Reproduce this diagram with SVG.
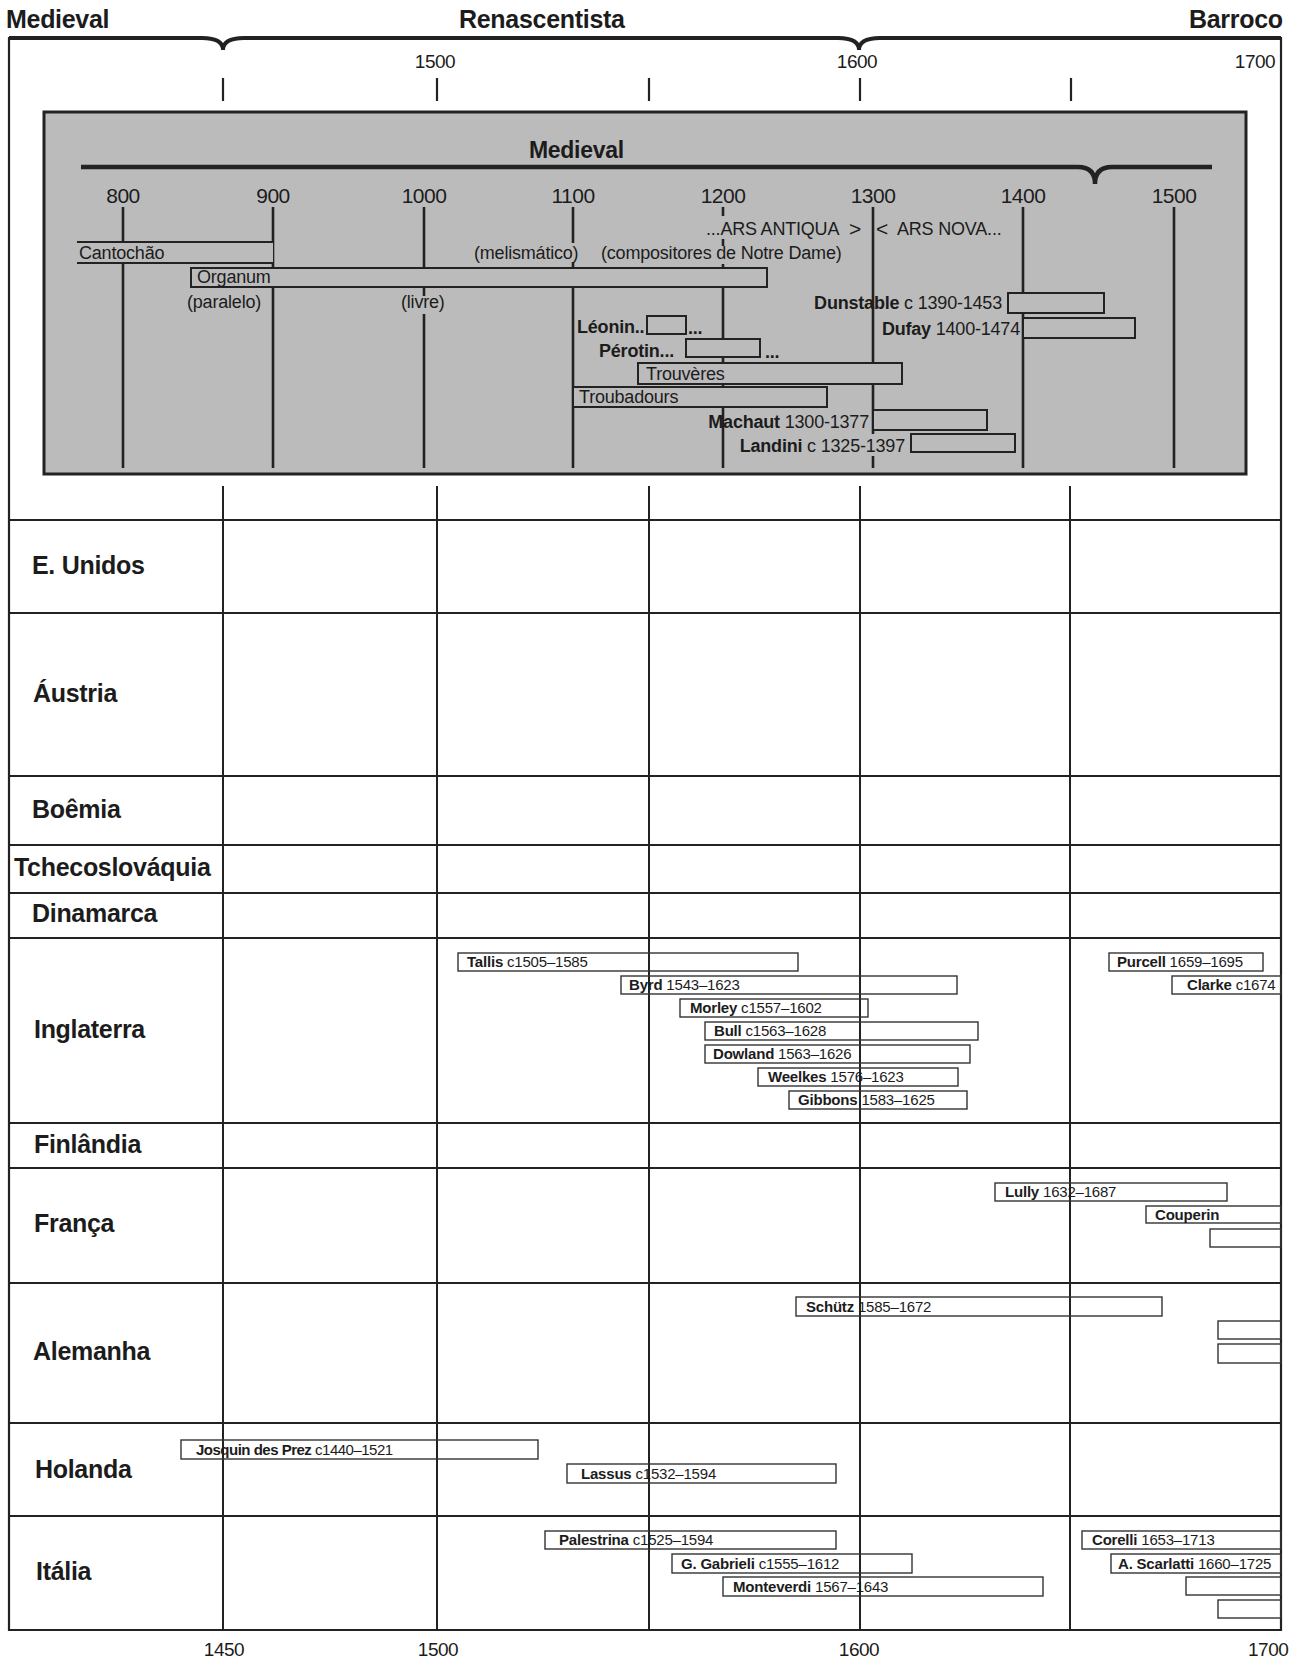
<svg xmlns="http://www.w3.org/2000/svg" width="1307" height="1660" viewBox="0 0 1307 1660">
<style>
text{font-family:"Liberation Sans",Arial,Helvetica,sans-serif;fill:#1c1c1c}
.hd{font-size:25px;font-weight:bold;letter-spacing:-0.3px}
.yr{font-size:19px;letter-spacing:-0.5px}
.gy{font-size:21px;letter-spacing:-0.5px}
.gl{font-size:18px;letter-spacing:-0.2px}
.b{font-weight:bold}
.ctry{font-size:25px;font-weight:bold;letter-spacing:-0.3px}
.tb{font-size:15px;letter-spacing:-0.2px}
.frame{stroke:#222;stroke-width:2.2;fill:none}
.topline{stroke:#222;stroke-width:4;fill:none;stroke-linejoin:miter}
.grid{stroke:#222;stroke-width:2;fill:none}
.tick{stroke:#222;stroke-width:2.2}
.panel{fill:#bbbbbb;stroke:#222;stroke-width:3}
.gline{stroke:#222;stroke-width:2.6;fill:none}
.gbar{fill:#bbbbbb;stroke:#222;stroke-width:2}
.gfill{fill:#bbbbbb}
.bar{fill:none;stroke:#333;stroke-width:1.4}
</style>
<rect width="1307" height="1660" fill="#fff"/>

<!-- Frame and period braces -->
<g id="frame">
  <path class="topline" d="M9,38 H202 Q223,38 223,50 Q223,38 244,38 H838 Q859,38 859,50 Q859,38 880,38 H1281"/>
  <line class="frame" x1="9" y1="37" x2="9" y2="1631"/>
  <line class="frame" x1="1281" y1="37" x2="1281" y2="1631"/>
  <line class="frame" x1="9" y1="1630" x2="1281" y2="1630"/>
  <text class="hd" x="6" y="28">Medieval</text>
  <text class="hd" x="459" y="28">Renascentista</text>
  <text class="hd" x="1189" y="28">Barroco</text>
  <text class="yr" x="435" y="68" text-anchor="middle">1500</text>
  <text class="yr" x="857" y="68" text-anchor="middle">1600</text>
  <text class="yr" x="1255" y="68" text-anchor="middle">1700</text>
  <line class="tick" x1="223" y1="78" x2="223" y2="101"/>
  <line class="tick" x1="437" y1="78" x2="437" y2="101"/>
  <line class="tick" x1="649" y1="78" x2="649" y2="101"/>
  <line class="tick" x1="860" y1="78" x2="860" y2="101"/>
  <line class="tick" x1="1071" y1="78" x2="1071" y2="101"/>
  <text class="yr" x="224" y="1656" text-anchor="middle">1450</text>
  <text class="yr" x="438" y="1656" text-anchor="middle">1500</text>
  <text class="yr" x="859" y="1656" text-anchor="middle">1600</text>
  <text class="yr" x="1248" y="1656">1700</text>
</g>

<!-- Medieval panel -->
<g id="medieval-panel">
  <rect class="panel" x="44" y="112" width="1202" height="362"/>
  <text class="b" x="529" y="158" style="font-size:23px;letter-spacing:-0.3px">Medieval</text>
  <path d="M81,167 H1078 Q1095,167 1095,184 Q1095,167 1112,167 H1212" stroke="#222" stroke-width="4.5" fill="none"/>
  <g class="gy" text-anchor="middle">
    <text x="123" y="203">800</text>
    <text x="273" y="203">900</text>
    <text x="424" y="203">1000</text>
    <text x="573" y="203">1100</text>
    <text x="723" y="203">1200</text>
    <text x="873" y="203">1300</text>
    <text x="1023" y="203">1400</text>
    <text x="1174" y="203">1500</text>
  </g>
  <g id="century-lines">
    <line class="gline" x1="123" y1="207" x2="123" y2="468"/>
    <line class="gline" x1="273" y1="207" x2="273" y2="468"/>
    <line class="gline" x1="424" y1="207" x2="424" y2="296"/>
    <line class="gline" x1="424" y1="314" x2="424" y2="468"/>
    <line class="gline" x1="573" y1="207" x2="573" y2="243"/>
    <line class="gline" x1="573" y1="262" x2="573" y2="468"/>
    <line class="gline" x1="723" y1="207" x2="723" y2="216"/>
    <line class="gline" x1="723" y1="239" x2="723" y2="246"/>
    <line class="gline" x1="723" y1="264" x2="723" y2="468"/>
    <line class="gline" x1="873" y1="207" x2="873" y2="434"/>
    <line class="gline" x1="873" y1="456" x2="873" y2="468"/>
    <line class="gline" x1="1023" y1="207" x2="1023" y2="468"/>
    <line class="gline" x1="1174" y1="207" x2="1174" y2="468"/>
  </g>
  <g id="cantochao">
    <rect class="gfill" x="77" y="242" width="196" height="21"/>
    <line class="gline" x1="77" y1="242" x2="273" y2="242" style="stroke-width:2"/>
    <line class="gline" x1="77" y1="263" x2="273" y2="263" style="stroke-width:2"/>
    <text class="gl" x="79" y="259">Cantochão</text>
  </g>
  <g id="organum">
    <rect class="gbar" x="191" y="268" width="576" height="19"/>
    <text class="gl" x="197" y="283">Organum</text>
    <text class="gl" x="187" y="308">(paralelo)</text>
    <text class="gl" x="401" y="308">(livre)</text>
    <text class="gl" x="474" y="259">(melismático)</text>
    <text class="gl" x="601" y="259">(compositores de Notre Dame)</text>
  </g>
  <g id="ars">
    <text class="gl" x="706" y="235">...ARS ANTIQUA</text>
    <text class="gl" x="849" y="236" style="font-size:21px">&gt;</text>
    <text class="gl" x="876" y="236" style="font-size:21px">&lt;</text>
    <text class="gl" x="897" y="235">ARS NOVA...</text>
  </g>
  <g id="leonin">
    <rect class="gbar" x="647" y="316" width="39" height="18"/>
    <text class="gl b" x="577" y="333">Léonin..</text>
    <text class="gl b" x="688" y="334">...</text>
  </g>
  <g id="perotin">
    <rect class="gbar" x="686" y="339" width="74" height="18"/>
    <text class="gl b" x="599" y="357">Pérotin...</text>
    <text class="gl b" x="765" y="358">...</text>
  </g>
  <g id="trouveres">
    <rect class="gbar" x="638" y="363" width="264" height="21"/>
    <text class="gl" x="646" y="380">Trouvères</text>
  </g>
  <g id="troubadours">
    <rect class="gbar" x="573" y="387" width="254" height="20"/>
    <text class="gl" x="579" y="403">Troubadours</text>
  </g>
  <g id="dunstable">
    <rect class="gbar" x="1008" y="293" width="96" height="20"/>
    <text class="gl" x="1002" y="309" text-anchor="end"><tspan class="b">Dunstable</tspan> c 1390-1453</text>
  </g>
  <g id="dufay">
    <rect class="gbar" x="1023" y="318" width="112" height="20"/>
    <text class="gl" x="1020" y="335" text-anchor="end"><tspan class="b">Dufay</tspan> 1400-1474</text>
  </g>
  <g id="machaut">
    <rect class="gbar" x="873" y="410" width="114" height="20"/>
    <text class="gl" x="869" y="428" text-anchor="end"><tspan class="b">Machaut</tspan> 1300-1377</text>
  </g>
  <g id="landini">
    <rect class="gbar" x="911" y="434" width="104" height="18"/>
    <text class="gl" x="905" y="452" text-anchor="end"><tspan class="b">Landini</tspan> c 1325-1397</text>
  </g>
</g>

<!-- Table grid -->
<g id="grid">
  <line class="grid" x1="223" y1="486" x2="223" y2="1630"/>
  <line class="grid" x1="437" y1="486" x2="437" y2="1630"/>
  <line class="grid" x1="649" y1="486" x2="649" y2="1630"/>
  <line class="grid" x1="860" y1="486" x2="860" y2="1630"/>
  <line class="grid" x1="1070" y1="486" x2="1070" y2="1630"/>
  <line class="grid" x1="9" y1="520" x2="1281" y2="520"/>
  <line class="grid" x1="9" y1="613" x2="1281" y2="613"/>
  <line class="grid" x1="9" y1="776" x2="1281" y2="776"/>
  <line class="grid" x1="9" y1="845" x2="1281" y2="845"/>
  <line class="grid" x1="9" y1="893" x2="1281" y2="893"/>
  <line class="grid" x1="9" y1="938" x2="1281" y2="938"/>
  <line class="grid" x1="9" y1="1123" x2="1281" y2="1123"/>
  <line class="grid" x1="9" y1="1168" x2="1281" y2="1168"/>
  <line class="grid" x1="9" y1="1283" x2="1281" y2="1283"/>
  <line class="grid" x1="9" y1="1423" x2="1281" y2="1423"/>
  <line class="grid" x1="9" y1="1516" x2="1281" y2="1516"/>
</g>

<!-- Country labels -->
<g id="countries" class="ctry">
  <text x="32" y="574">E. Unidos</text>
  <text x="33" y="702">Áustria</text>
  <text x="32" y="818">Boêmia</text>
  <text x="14" y="876">Tchecoslováquia</text>
  <text x="32" y="922">Dinamarca</text>
  <text x="34" y="1038">Inglaterra</text>
  <text x="34" y="1153">Finlândia</text>
  <text x="34" y="1232">França</text>
  <text x="33" y="1360">Alemanha</text>
  <text x="35" y="1478">Holanda</text>
  <text x="36" y="1580">Itália</text>
</g>

<!-- Composer bars -->
<g id="inglaterra-composers" class="tb">
  <g id="tallis"><rect class="bar" x="458" y="953" width="340" height="18"/><text x="467" y="967"><tspan class="b">Tallis</tspan> c1505–1585</text></g>
  <g id="byrd"><rect class="bar" x="621" y="976" width="336" height="18"/><text x="629" y="990"><tspan class="b">Byrd</tspan> 1543–1623</text></g>
  <g id="morley"><rect class="bar" x="680" y="999" width="188" height="18"/><text x="690" y="1013"><tspan class="b">Morley</tspan> c1557–1602</text></g>
  <g id="bull"><rect class="bar" x="705" y="1022" width="273" height="18"/><text x="714" y="1036"><tspan class="b">Bull</tspan> c1563–1628</text></g>
  <g id="dowland"><rect class="bar" x="705" y="1045" width="265" height="18"/><text x="713" y="1059"><tspan class="b">Dowland</tspan> 1563–1626</text></g>
  <g id="weelkes"><rect class="bar" x="758" y="1068" width="200" height="18"/><text x="768" y="1082"><tspan class="b">Weelkes</tspan> 1576–1623</text></g>
  <g id="gibbons"><rect class="bar" x="789" y="1091" width="178" height="18"/><text x="798" y="1105"><tspan class="b">Gibbons</tspan> 1583–1625</text></g>
  <g id="purcell"><rect class="bar" x="1109" y="953" width="154" height="18"/><text x="1117" y="967"><tspan class="b">Purcell</tspan> 1659–1695</text></g>
  <g id="clarke"><rect class="bar" x="1172" y="976" width="109" height="18"/><text x="1187" y="990"><tspan class="b">Clarke</tspan> c1674</text></g>
</g>
<g id="franca-composers" class="tb">
  <g id="lully"><rect class="bar" x="995" y="1183" width="232" height="18"/><text x="1005" y="1197"><tspan class="b">Lully</tspan> 1632–1687</text></g>
  <g id="couperin"><rect class="bar" x="1146" y="1206" width="135" height="17"/><text x="1155" y="1220" class="b">Couperin</text></g>
  <g id="franca-empty"><rect class="bar" x="1210" y="1229" width="71" height="18"/></g>
</g>
<g id="alemanha-composers" class="tb">
  <g id="schutz"><rect class="bar" x="796" y="1297" width="366" height="19"/><text x="806" y="1312"><tspan class="b">Schütz</tspan> 1585–1672</text></g>
  <g id="alemanha-empty-1"><rect class="bar" x="1218" y="1321" width="63" height="18"/></g>
  <g id="alemanha-empty-2"><rect class="bar" x="1218" y="1344" width="63" height="19"/></g>
</g>
<g id="holanda-composers" class="tb">
  <g id="josquin"><rect class="bar" x="181" y="1440" width="357" height="19"/><text x="196" y="1455" style="letter-spacing:-0.5px"><tspan class="b">Josquin des Prez</tspan> c1440–1521</text></g>
  <g id="lassus"><rect class="bar" x="567" y="1464" width="269" height="19"/><text x="581" y="1479"><tspan class="b">Lassus</tspan> c1532–1594</text></g>
</g>
<g id="italia-composers" class="tb">
  <g id="palestrina"><rect class="bar" x="545" y="1531" width="291" height="18"/><text x="559" y="1545"><tspan class="b">Palestrina</tspan> c1525–1594</text></g>
  <g id="gabrieli"><rect class="bar" x="672" y="1554" width="240" height="19"/><text x="681" y="1569"><tspan class="b">G. Gabrieli</tspan> c1555–1612</text></g>
  <g id="monteverdi"><rect class="bar" x="723" y="1577" width="320" height="19"/><text x="733" y="1592"><tspan class="b">Monteverdi</tspan> 1567–1643</text></g>
  <g id="corelli"><rect class="bar" x="1082" y="1531" width="199" height="18"/><text x="1092" y="1545"><tspan class="b">Corelli</tspan> 1653–1713</text></g>
  <g id="scarlatti"><rect class="bar" x="1111" y="1554" width="170" height="19"/><text x="1118" y="1569"><tspan class="b">A. Scarlatti</tspan> 1660–1725</text></g>
  <g id="italia-empty-1"><rect class="bar" x="1186" y="1577" width="95" height="18"/></g>
  <g id="italia-empty-2"><rect class="bar" x="1218" y="1600" width="63" height="18"/></g>
</g>
</svg>
